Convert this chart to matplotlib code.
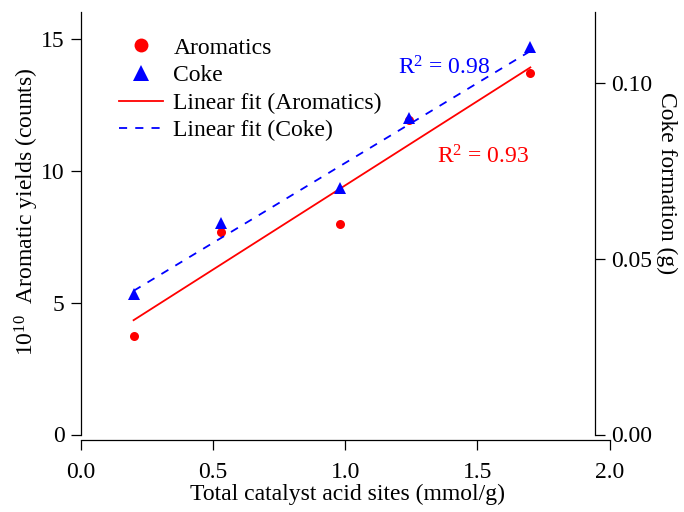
import numpy as np
import matplotlib
matplotlib.use('Agg')
import matplotlib.pyplot as plt
from matplotlib.lines import Line2D

plt.rcParams['font.family'] = ['Liberation Serif', 'DejaVu Serif']
plt.rcParams['mathtext.fontset'] = 'custom'
plt.rcParams['mathtext.rm'] = 'Liberation Serif'
plt.rcParams['mathtext.it'] = 'Liberation Serif:italic'
plt.rcParams['font.size'] = 17

# data
acid_sites = [0.20, 0.53, 0.98, 1.24, 1.70]
aromatics = [3.74, 7.66, 7.96, 11.92, 13.69]   # x 1e10 counts
coke = [0.040, 0.060, 0.070, 0.090, 0.110]      # g
r2_labels = ['R$^{2}$ = 0.93', 'R$^{2}$ = 0.98']
legend_labels = ['Aromatics', 'Coke', 'Linear fit (Aromatics)', 'Linear fit (Coke)']
x_ticks = [0.0, 0.5, 1.0, 1.5, 2.0]
y_ticks = [0, 5, 10, 15]
coke_ticks = [0.00, 0.05, 0.10]

RED, BLUE = '#ff0000', '#0000ff'
FS = 17
W, H = 684, 512
x0, x1, xr = 80.7, 609.7, 595.0   # left spine, x=2.0 tick, right spine (px)
yb, yt = 434.5, 12.3              # y=0 and top (px from top)

fig = plt.figure(figsize=(W / 100, H / 100), dpi=100)
ax = fig.add_axes([x0 / W, (H - yb) / H, (x1 - x0) / W, (yb - yt) / H])
# coke axis ends at the right spine, same x scale
ax2 = fig.add_axes([x0 / W, (H - yb) / H, (xr - x0) / W, (yb - yt) / H])
ax2.patch.set_visible(False)

x = np.array(acid_sites)
pa = np.polyfit(x, aromatics, 1)
pc = np.polyfit(x, coke, 1)
xf = np.array([x.min(), x.max()])

ax.plot(xf, np.polyval(pa, xf), color=RED, lw=1.3)
ax.plot(x, aromatics, 'o', color=RED, ms=6.5, mew=0)
ax2.plot(xf, np.polyval(pc, xf), color=BLUE, lw=1.3, ls=(0, (4.5, 4.5)))
ax2.plot(x, coke, '^', color=BLUE, ms=8, mew=0)

ax.set_xlim(0, 2)
ax2.set_xlim(0, 2 * (xr - x0) / (x1 - x0))
ax.set_ylim(0, 16)
ax2.set_ylim(0, 0.12)
ax.set_xticks(x_ticks)
ax.set_xticklabels([f'{v:.1f}' for v in x_ticks])
ax.set_yticks(y_ticks)
ax2.set_xticks([])
ax2.yaxis.tick_right()
ax2.set_yticks(coke_ticks)
ax2.set_yticklabels([f'{v:.2f}' for v in coke_ticks])

for s in ['top', 'right']:
    ax.spines[s].set_visible(False)
for s in ['top', 'left', 'bottom']:
    ax2.spines[s].set_visible(False)
ax.spines['bottom'].set_position(('outward', 4.3))
for sp in [ax.spines['left'], ax.spines['bottom'], ax2.spines['right']]:
    sp.set_linewidth(0.9)

ax.tick_params(axis='y', direction='out', length=7.5, width=0.9, pad=4.0, labelsize=FS)
ax.tick_params(axis='x', direction='out', length=7.5, width=0.9, pad=8.0, labelsize=FS)
ax2.tick_params(axis='y', direction='out', length=7.5, width=0.9, pad=4.0, labelsize=FS,
                right=True, left=False, labelright=True, labelleft=False)

ax.text(1.347, 10.26, r2_labels[0], color=RED, fontsize=FS, va='baseline')
ax.text(1.20, 13.66, r2_labels[1], color=BLUE, fontsize=FS, va='baseline')

fig.text(347 / W, 12 / H, 'Total catalyst acid sites (mmol/g)', ha='center', va='baseline', fontsize=FS)
fig.text(27 / W, 1 - 212 / H, '$10^{10}$  Aromatic yields (counts)', rotation=90,
         ha='center', va='center', fontsize=FS)
fig.text(667 / W, 1 - 183 / H, 'Coke formation (g)', rotation=270,
         ha='center', va='center', fontsize=FS)

handles = [
    Line2D([], [], ls='none', marker='o', color=RED, ms=10, mew=0),
    Line2D([], [], ls='none', marker='^', color=BLUE, ms=12, mew=0),
    Line2D([], [], color=RED, lw=1.3),
    Line2D([], [], color=BLUE, lw=1.3, ls=(0, (4.5, 4.5))),
]
fig.legend(handles, legend_labels, loc='upper left', bbox_to_anchor=(119 / W, 1 - 37 / H),
           frameon=False, fontsize=FS, handlelength=1.85, handletextpad=0.45,
           labelspacing=0.26, borderpad=0, borderaxespad=0)

fig.savefig('out.png', dpi=100)
